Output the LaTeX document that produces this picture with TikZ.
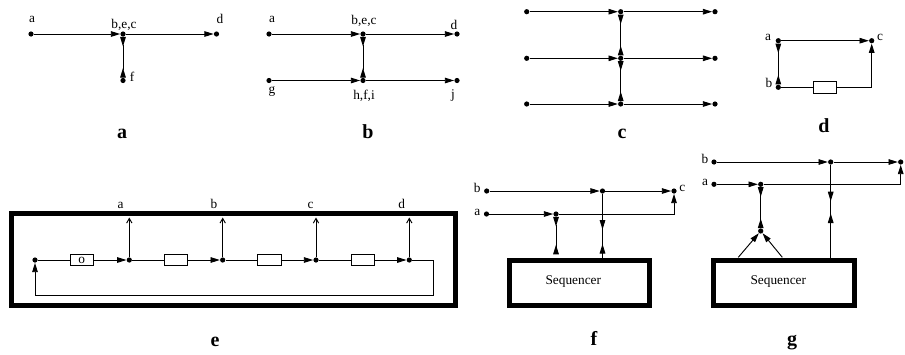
\documentclass[tikz,border=0pt]{standalone}
\usepackage{fontspec}
\setmainfont{Liberation Serif}
\usetikzlibrary{arrows.meta}
\tikzset{
 dot/.style={circle,fill=black,inner sep=0pt,minimum size=3.9pt},
 ln/.style={line width=0.7pt},
 into/.style={ln,-{Triangle[length=7pt,width=4.2pt]}},
 bothin/.style={ln,{Triangle[reversed,length=7.2pt,width=4.2pt]}-{Triangle[reversed,length=7.2pt,width=4.2pt]}},
 outtip/.style={ln,-{Straight Barb[length=3.5pt,width=4pt]}},
 lab/.style={font=\fontsize{10}{12}\selectfont,inner sep=0pt,anchor=base},
 panellab/.style={font=\fontsize{15}{18}\selectfont\bfseries,inner sep=0pt,anchor=base},
 res/.style={draw,ln,minimum width=17.5pt,minimum height=8.8pt,inner sep=0pt},
 thickframe/.style={draw,line width=3.6pt},
 seqbox/.style={draw,line width=3.75pt,minimum width=105pt,minimum height=34.3pt,inner sep=0pt},
}
\begin{document}
\begin{tikzpicture}[x=0.75pt,y=-0.75pt]
\useasboundingbox (0,0) rectangle (905,354);

% ---------- panel a ----------
\node[dot] (aa) at (31,34) {};
\node[dot] (abec) at (123,34) {};
\node[dot] (ad) at (216.5,34) {};
\node[dot] (af) at (123,80.5) {};
\draw[into] (aa) -- (abec);
\draw[into] (abec) -- (ad);
\draw[bothin] (abec) -- (af);
\node[lab] (laa) at (32,22.5) {a};
\node[lab] (labec) at (124,28.5) {b,e,c};
\node[lab] (lad) at (220,23.3) {d};
\node[lab] (laf) at (132,81) {f};
\node[panellab] (capa) at (122,138) {a};

% ---------- panel b ----------
\node[dot] (ba) at (269,34) {};
\node[dot] (bbec) at (363,34) {};
\node[dot] (bd) at (457,34) {};
\node[dot] (bg) at (269,80.5) {};
\node[dot] (bhfi) at (363,80.5) {};
\node[dot] (bj) at (457,80.5) {};
\draw[into] (ba) -- (bbec);
\draw[into] (bbec) -- (bd);
\draw[into] (bg) -- (bhfi);
\draw[into] (bhfi) -- (bj);
\draw[bothin] (bbec) -- (bhfi);
\node[lab] (lba) at (272,22.7) {a};
\node[lab] (lbbec) at (364,24.2) {b,e,c};
\node[lab] (lbd) at (454,29.5) {d};
\node[lab] (lbg) at (272,93.4) {g};
\node[lab] (lbhfi) at (364,99) {h,f,i};
\node[lab] (lbj) at (453,98.5) {j};
\node[panellab] (capb) at (368,138) {b};

% ---------- panel c ----------
\foreach \r/\yy in {1/11.7,2/58.3,3/104}{
  \node[dot] (cl\r) at (526.7,\yy) {};
  \node[dot] (cm\r) at (620.7,\yy) {};
  \node[dot] (cr\r) at (715,\yy) {};
  \draw[into] (cl\r) -- (cm\r);
  \draw[into] (cm\r) -- (cr\r);
}
\draw[bothin] (cm1) -- (cm2);
\draw[bothin] (cm2) -- (cm3);
\node[panellab] (capc) at (622,138) {c};

% ---------- panel d ----------
\node[dot] (da) at (778.3,40.7) {};
\node[dot] (dc) at (871.7,40.7) {};
\node[dot] (db) at (778.3,87.3) {};
\node[res] (dr) at (825,87.3) {};
\draw[into] (da) -- (dc);
\draw[bothin] (da) -- (db);
\draw[ln] (db) -- (dr);
\draw[into] (dr) -| (dc);
\node[lab] (lda) at (768,40) {a};
\node[lab] (ldc) at (880,40) {c};
\node[lab] (ldb) at (769,87.5) {b};
\node[panellab] (capd) at (824,132) {d};

% ---------- panel e ----------
\node[thickframe,minimum width=333pt,minimum height=69pt,inner sep=0pt] (eframe) at (233.75,259.8) {};
\node[dot] (e0) at (35,260) {};
\node[res,font=\fontsize{10}{12}\selectfont] (er1) at (81.7,260) {o};
\node[dot] (e1) at (129.3,260) {};
\node[res] (er2) at (175.7,260) {};
\node[dot] (e2) at (222.7,260) {};
\node[res] (er3) at (269.3,260) {};
\node[dot] (e3) at (316,260) {};
\node[res] (er4) at (362.7,260) {};
\node[dot] (e4) at (409.3,260) {};
\draw[ln] (e0) -- (er1);
\draw[into] (er1) -- (e1);
\draw[ln] (e1) -- (er2);
\draw[into] (er2) -- (e2);
\draw[ln] (e2) -- (er3);
\draw[into] (er3) -- (e3);
\draw[ln] (e3) -- (er4);
\draw[into] (er4) -- (e4);
\coordinate (eret) at (433.3,295);
\draw[into] (e4) -| (eret) -| (e0);
\coordinate (ta) at (129.3,217.5);
\coordinate (tb) at (222.7,217.5);
\coordinate (tc) at (316,217.5);
\coordinate (td) at (409.3,217.5);
\draw[outtip] (e1) -- (ta);
\draw[outtip] (e2) -- (tb);
\draw[outtip] (e3) -- (tc);
\draw[outtip] (e4) -- (td);
\node[lab] (lea) at (120.7,208) {a};
\node[lab] (leb) at (214,208) {b};
\node[lab] (lec) at (310.7,208) {c};
\node[lab] (led) at (401.7,208) {d};
\node[panellab] (cape) at (215,346.5) {e};

% ---------- panel f ----------
\node[seqbox] (fseq) at (579.2,282.9) {};
\node[lab] (fseqt) at (573.3,284) {Sequencer};
\node[dot] (fb) at (486.7,191) {};
\node[dot] (fbm) at (602.5,191) {};
\node[dot] (fc) at (674,191) {};
\node[dot] (fa) at (486.5,214) {};
\node[dot] (fam) at (556,214) {};
\draw[into] (fb) -- (fbm);
\draw[into] (fbm) -- (fc);
\draw[into] (fa) -- (fam);
\draw[into] (fam) -| (fc);
\draw[bothin,shorten >=2.4pt] (fam) -- (fam |- fseq.north);
\draw[ln] (fbm) -- (fbm |- fseq.north);
\coordinate (fq1) at (602.5,220);
\coordinate (fq2) at (602.5,253.5);
\draw[bothin] (fq1) -- (fq2);
\node[lab] (lfb) at (477.3,192) {b};
\node[lab] (lfa) at (477.3,215) {a};
\node[lab] (lfc) at (682.3,191.7) {c};
\node[panellab] (capf) at (594,345) {f};

% ---------- panel g ----------
\node[seqbox,minimum width=105.7pt] (gseq) at (783.75,282.9) {};
\node[lab] (gseqt) at (778.3,284) {Sequencer};
\node[dot] (gb) at (714,162) {};
\node[dot] (gbm) at (830.7,162) {};
\node[dot] (gr) at (900.7,162) {};
\node[dot] (ga) at (714,184.3) {};
\node[dot] (gam) at (760.7,184.3) {};
\node[dot] (gj) at (760.7,231) {};
\draw[into] (gb) -- (gbm);
\draw[into] (gbm) -- (gr);
\draw[into] (ga) -- (gam);
\draw[into] (gam) -| (gr);
\draw[bothin] (gam) -- (gj);
\coordinate (gd1) at (738.3,257.3);
\coordinate (gd2) at (782.3,257.3);
\draw[into] (gd1) -- (gj);
\draw[into] (gd2) -- (gj);
\draw[ln] (gbm) -- (gbm |- gseq.north);
\coordinate (gq1) at (830.7,191.7);
\coordinate (gq2) at (830.7,223);
\draw[bothin] (gq1) -- (gq2);
\node[lab] (lgb) at (705,163) {b};
\node[lab] (lga) at (705,185) {a};
\node[panellab] (capg) at (792,345) {g};
\end{tikzpicture}
\end{document}
